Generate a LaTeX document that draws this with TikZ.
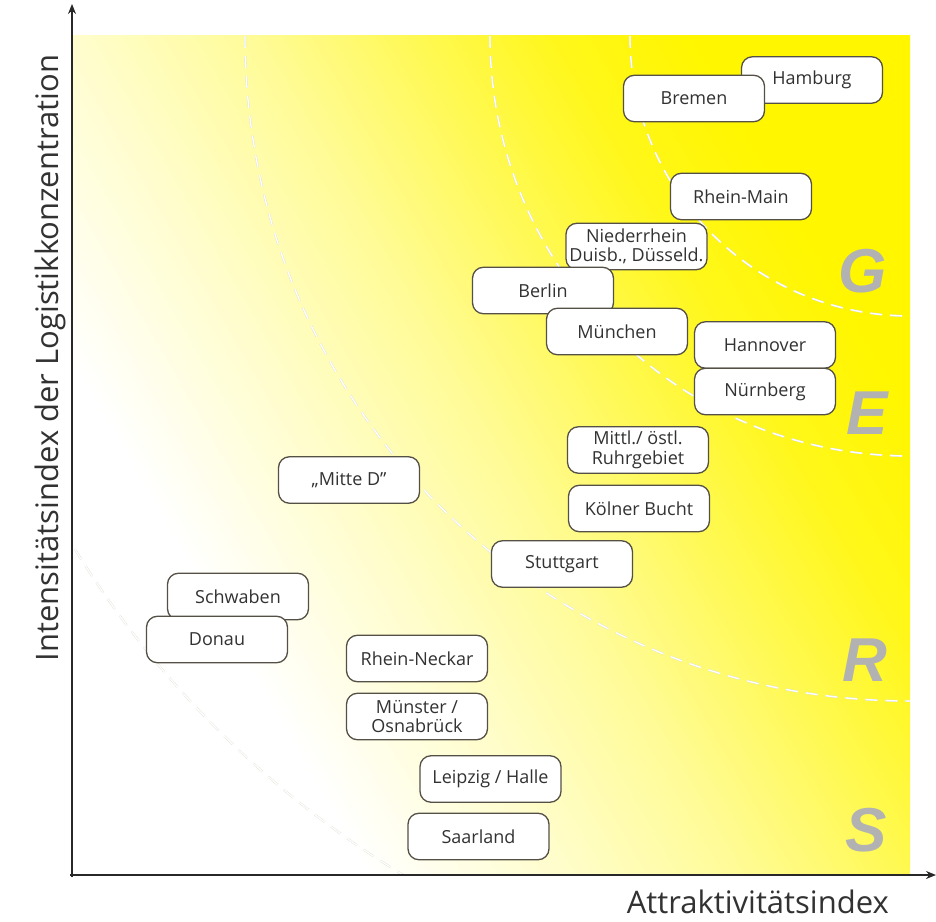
\documentclass[tikz,border=0pt]{standalone}
\usepackage{fontspec}
\usetikzlibrary{arrows.meta}
\newfontfamily\boxfont{Open Sans}
\newfontfamily\letterfont{Liberation Sans}
\definecolor{boxline}{RGB}{85,80,70}
\definecolor{txt}{RGB}{50,50,50}
\definecolor{axiscol}{RGB}{40,40,40}
\definecolor{lettercol}{RGB}{178,178,178}
\definecolor{refyellow}{RGB}{255,246,0}
\definecolor{arcgrey}{RGB}{222,222,212}
\pgfdeclareverticalshading{yshade}{100bp}{color(0bp)=(white); color(31bp)=(white); color(41bp)=(refyellow!20); color(50bp)=(refyellow!40); color(58bp)=(refyellow!65); color(66bp)=(refyellow!90); color(73bp)=(refyellow); color(100bp)=(refyellow)}
\begin{document}
\begin{tikzpicture}[x=1pt,y=1pt,
  box/.style={draw=boxline, fill=white, line width=1.3pt, rounded corners=11pt,
    minimum width=141pt, minimum height=46.5pt, inner sep=0pt, align=center,
    text=txt, font={\boxfont\fontsize{18}{19.5}\selectfont}},
  letter/.style={text=lettercol, inner sep=0pt,
    font={\letterfont\bfseries\itshape\fontsize{62}{62}\selectfont}},
  axislabel/.style={text=txt, inner sep=0pt, font={\boxfont\fontsize{31}{36}\selectfont}},
  axisline/.style={draw=axiscol, line width=1.8pt, -{Stealth[length=10pt,width=8pt]}},
  arcbg/.style={draw=arcgrey, line width=2pt, dash pattern=on 12pt off 8pt},
  arcfg/.style={draw=white, line width=1.3pt, dash pattern=on 12pt off 8pt}]
\useasboundingbox (0,0) rectangle (936,921);
\fill[white] (0,0) rectangle (936,921);
% background field
\shade[shading=yshade, shading angle=-60] (72,47) rectangle (910,885);
% dashed boundary arcs
\begin{scope}
  \clip (72,47) rectangle (910,885);
  \foreach \r in {280,420,665,980} {
    \draw[arcbg] (910-\r,885) arc[start angle=180, end angle=270, radius=\r];
    \draw[arcfg] (910-\r,885) arc[start angle=180, end angle=270, radius=\r];
  }
\end{scope}
% zone letters
\node[letter] (G) at (863,650) {G};
\node[letter] (E) at (867,508) {E};
\node[letter] (R) at (865,261) {R};
\node[letter] (S) at (866,91) {S};
% axes
\coordinate (orig) at (72,44);
\coordinate (xorig) at (70,46);
\coordinate (ytip) at (72,917);
\coordinate (xtip) at (936,46);
\draw[axisline] (orig) -- (ytip);
\draw[axisline] (xorig) -- (xtip);
\node[axislabel, rotate=90, anchor=base] (ylab) at (58,563) {Intensitätsindex der Logistikkonzentration};
\node[axislabel, anchor=base east] (xlab) at (889,8) {Attraktivitätsindex};
% region boxes
\node[box] (hamburg) at (812,841) {Hamburg};
\node[box] (bremen) at (694,822.5) {Bremen};
\node[box] (rheinmain) at (741,724.5) {Rhein-Main};
\node[box] (niederrhein) at (636.5,674.5) {Niederrhein\\Duisb., Düsseld.};
\node[box] (berlin) at (543,630.5) {Berlin};
\node[box] (muenchen) at (617,589.5) {München};
\node[box] (hannover) at (765,576) {Hannover};
\node[box] (nuernberg) at (765,529.5) {Nürnberg};
\node[box] (ruhr) at (638,471) {Mittl./ östl.\\Ruhrgebiet};
\node[box] (koeln) at (639,412.5) {Kölner Bucht};
\node[box] (stuttgart) at (562,357) {Stuttgart};
\node[box] (mitte) at (349,441) {„Mitte D”};
\node[box] (schwaben) at (238,324.5) {Schwaben};
\node[box] (donau) at (217,281.5) {Donau};
\node[box] (rheinneckar) at (417,262.5) {Rhein-Neckar};
\node[box] (muenster) at (417,204.5) {Münster /\\Osnabrück};
\node[box] (leipzig) at (490.5,142) {Leipzig / Halle};
\node[box] (saarland) at (478.5,84.5) {Saarland};
\end{tikzpicture}
\end{document}
